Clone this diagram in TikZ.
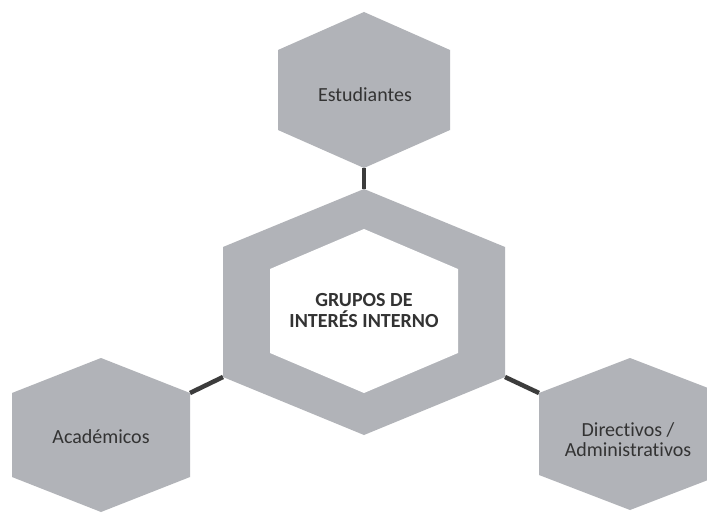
\documentclass[tikz,border=0pt]{standalone}
\usepackage{fontspec}
\setmainfont[Ligatures=NoCommon]{Carlito}
\definecolor{hexfill}{HTML}{B1B3B8}
\definecolor{linkcol}{HTML}{3C3C3C}
\definecolor{txtcol}{HTML}{333333}
\newcommand{\hexpath}[6]{% name, cx, cy, w, h, s
  \coordinate (#1-n) at (#2,#3-#5);
  \coordinate (#1-ne) at (#2+#4,#3-#6);
  \coordinate (#1-se) at (#2+#4,#3+#6);
  \coordinate (#1-s) at (#2,#3+#5);
  \coordinate (#1-sw) at (#2-#4,#3+#6);
  \coordinate (#1-nw) at (#2-#4,#3-#6);
}
\begin{document}
\begin{tikzpicture}[x=1pt,y=-1pt,
  hexshape/.style={fill=hexfill,draw=none},
  inner/.style={fill=white,draw=none},
  link/.style={draw=linkcol,line width=4.5pt},
  lbl/.style={text=txtcol,font=\fontsize{20}{20}\selectfont,align=center,inner sep=0pt},
  clbl/.style={text=txtcol,font=\bfseries\fontsize{20}{21}\selectfont,align=center,inner sep=0pt}]
\useasboundingbox (0,0) rectangle (707,513);
\fill[white] (0,0) rectangle (707,513);
\clip (0,0) rectangle (707,513);
\hexpath{top}{364}{90}{86}{78}{40}
\hexpath{ctr}{364}{312}{141}{123}{65}
\hexpath{inn}{364}{311}{94}{82}{42}
\hexpath{lft}{101}{435}{89}{77}{42}
\hexpath{rgt}{630}{434}{91}{76}{41}
% connectors
\draw[link] (top-s) -- (ctr-n);
\draw[link] (lft-ne) -- (ctr-sw);
\draw[link] (ctr-se) -- (rgt-nw);
% hexagons
\foreach \h in {top,ctr,lft,rgt}{
  \path[hexshape] (\h-n) -- (\h-ne) -- (\h-se) -- (\h-s) -- (\h-sw) -- (\h-nw) -- cycle;
}
\path[inner] (inn-n) -- (inn-ne) -- (inn-se) -- (inn-s) -- (inn-sw) -- (inn-nw) -- cycle;
% labels
\node[lbl] (est) at (365,95) {Estudiantes};
\node[clbl] (grp) at (364,311) {GRUPOS DE\\INTERÉS INTERNO};
\node[lbl] (aca) at (101,437) {Académicos};
\node[lbl] (dir) at (628,440) {Directivos /\\Administrativos};
\end{tikzpicture}
\end{document}
